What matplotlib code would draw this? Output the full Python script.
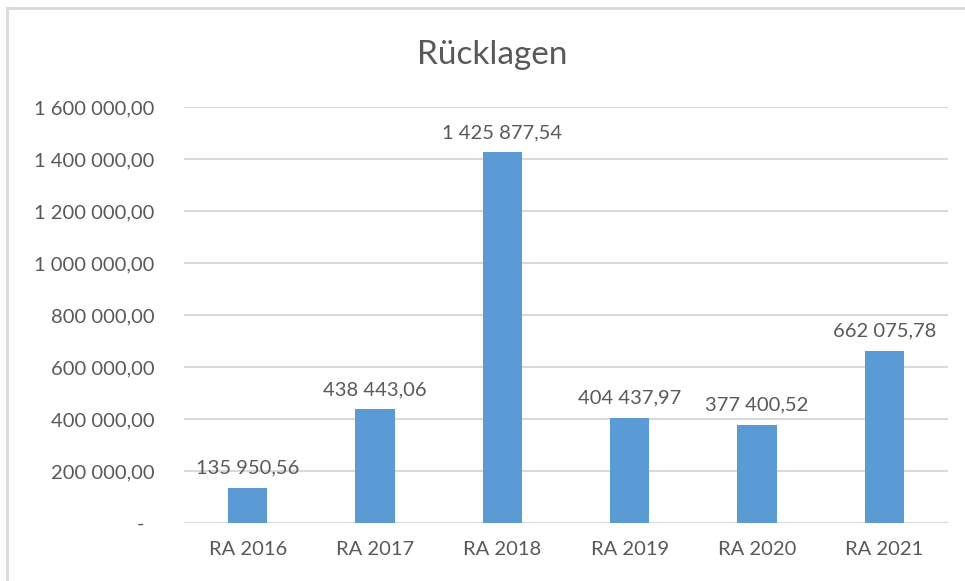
import matplotlib
matplotlib.use('Agg')
import matplotlib.pyplot as plt
import matplotlib.ticker as ticker
from matplotlib.lines import Line2D

plt.rcParams['font.family'] = ['Lato', 'DejaVu Sans']

# ── Data ─────────────────────────────────────────────────────────────────────
categories = ['RA 2016', 'RA 2017', 'RA 2018', 'RA 2019', 'RA 2020', 'RA 2021']
values = [135950.56, 438443.06, 1425877.54, 404437.97, 377400.52, 662075.78]
y_ticks = [0, 200000, 400000, 600000, 800000, 1000000, 1200000, 1400000, 1600000]

_BAR = '#5b9bd5'
_TEXT = '#595959'
_GRID = '#d9d9d9'
_FS = 14.5


def fmt_de(v, decimals=2):
    """German style: space thousands separator, comma decimal."""
    s = f'{v:,.{decimals}f}'
    return s.replace(',', ' ').replace('.', ',')


def fmt_tick(v, _pos=None):
    if v == 0:
        return '-  '
    return fmt_de(v)


fig = plt.figure(figsize=(9.65, 5.81), dpi=100, facecolor='white')
ax = fig.add_axes([184 / 965, 1 - 523 / 581, (948 - 184) / 965, (523 - 107) / 581])

x_pos = list(range(len(categories)))
ax.bar(x_pos, values, width=0.31, color=_BAR, zorder=3)

for x, v in zip(x_pos, values):
    ax.annotate(fmt_de(v), xy=(x, v), xytext=(0, 8), textcoords='offset points',
                ha='center', va='bottom', fontsize=_FS, color=_TEXT)

ax.set_xlim(-0.5, len(categories) - 0.5)
ax.set_ylim(0, 1600000)
ax.set_yticks(y_ticks)
ax.yaxis.set_major_formatter(ticker.FuncFormatter(fmt_tick))
ax.set_xticks(x_pos)
ax.set_xticklabels(categories)

for s in ax.spines.values():
    s.set_visible(False)
ax.tick_params(axis='both', length=0, labelsize=_FS, labelcolor=_TEXT)
ax.tick_params(axis='y', pad=21)
ax.tick_params(axis='x', pad=13)
ax.yaxis.grid(True, color=_GRID, linewidth=1.5)
ax.set_axisbelow(True)

fig.text(492 / 965, 1 - 55 / 581, 'Rücklagen', ha='center', va='center',
         fontsize=24, color=_TEXT)

# chart area border (only left and top edges visible in the crop)
fig.add_artist(Line2D([7 / 965, 7 / 965], [0, 1 - 8 / 581], transform=fig.transFigure,
                      color=_GRID, linewidth=2))
fig.add_artist(Line2D([7 / 965, 1], [1 - 8 / 581, 1 - 8 / 581], transform=fig.transFigure,
                      color=_GRID, linewidth=2))

fig.savefig('out.png', dpi=100, facecolor='white')
